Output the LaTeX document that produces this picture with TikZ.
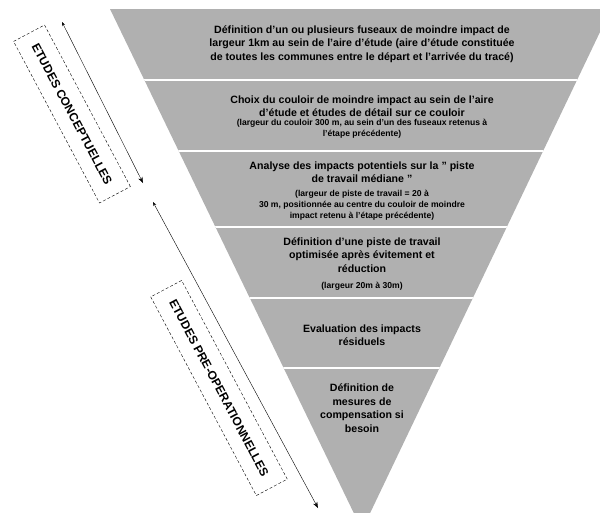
\documentclass[tikz,border=0pt]{standalone}
\usepackage{fontspec}
\setmainfont{Liberation Sans}
\usetikzlibrary{arrows.meta}

\tikzset{
  funnel/.style={fill=black!31},
  bandline/.style={draw=white,line width=1.6pt},
  bandtext/.style={align=center,inner sep=0pt,font=\bfseries\fontsize{10.6}{13.5}\selectfont},
  notetext/.style={align=center,inner sep=0pt,font=\bfseries\fontsize{8.6}{10.8}\selectfont},
  phasebox/.style={draw,thin,densely dashed,rotate=-62,minimum height=35,inner sep=2pt,
    font=\bfseries\fontsize{12}{13}\selectfont},
  phasearrow/.style={thin,{Stealth[length=4pt]}-{Stealth[length=6pt]}}
}

\begin{document}
\begin{tikzpicture}[x=1pt,y=-1pt]

\useasboundingbox (0,0) rectangle (600,512);

% funnel
\coordinate (tl) at (110,9);
\coordinate (tr) at (611,9);
\coordinate (apex) at (362,530);
\begin{scope}
\clip (0,0) rectangle (600,512);
\fill[funnel] (tl) -- (tr) -- (apex) -- cycle;
\clip (tl) -- (tr) -- (apex) -- cycle;
\foreach \y in {80,151,227,298,368}
  \draw[bandline] (100,\y) -- (620,\y);
\end{scope}

% steps
\node[bandtext] (b1) at (362,44) {D\'efinition d'un ou plusieurs fuseaux de moindre impact de\\
  largeur 1km au sein de l'aire d'\'etude (aire d'\'etude constitu\'ee\\
  de toutes les communes entre le d\'epart et l'arriv\'ee du trac\'e)};

\node[bandtext] (b2) at (362,106) {Choix du couloir de moindre impact au sein de l'aire\\
  d'\'etude et \'etudes de d\'etail sur ce couloir};
\node[notetext] (b2n) at (362,129) {(largeur du couloir 300 m, au sein d'un des fuseaux retenus \`a\\
  l'\'etape pr\'ec\'edente)};

\node[bandtext] (b3) at (362,172) {Analyse des impacts potentiels sur la " piste\\
  de travail m\'ediane "};
\node[notetext] (b3n) at (362,205) {(largeur de piste de travail = 20 \`a\\
  30 m, positionn\'ee au centre du couloir de moindre\\
  impact retenu \`a l'\'etape pr\'ec\'edente)};

\node[bandtext] (b4) at (362,255) {D\'efinition d'une piste de travail\\
  optimis\'ee apr\`es \'evitement et\\ r\'eduction};
\node[notetext] (b4n) at (362,286) {(largeur 20m \`a 30m)};

\node[bandtext] (b5) at (362,335) {Evaluation des impacts\\ r\'esiduels};

\node[bandtext] (b6) at (362,408) {D\'efinition de\\ mesures de\\ compensation si\\ besoin};

% phases
\node[phasebox,minimum width=183] (p1) at (72,114) {ETUDES CONCEPTUELLES};
\node[phasebox,minimum width=225] (p2) at (219,388) {ETUDES PRE-OPERATIONNELLES};

\coordinate (a1) at (62,22);
\coordinate (a2) at (143,183);
\coordinate (a3) at (153,202);
\coordinate (a4) at (318,508);
\draw[phasearrow] (a1) -- (a2);
\draw[phasearrow] (a3) -- (a4);

\end{tikzpicture}
\end{document}
